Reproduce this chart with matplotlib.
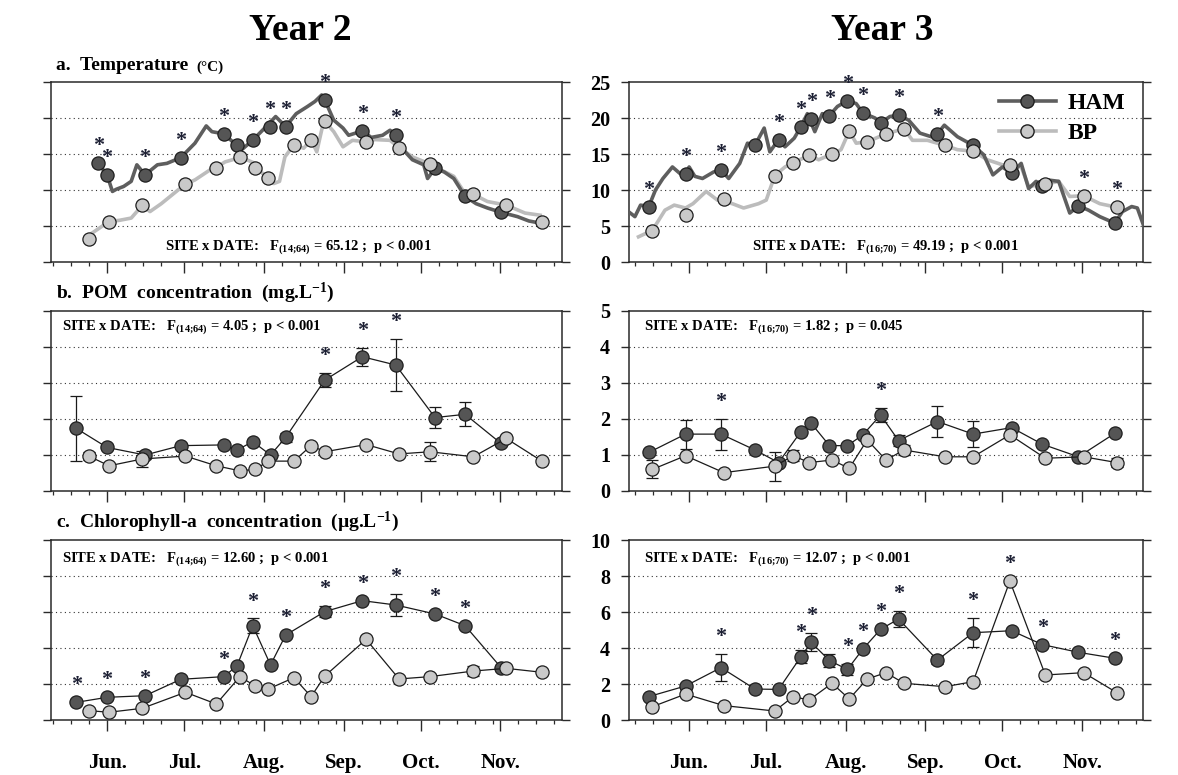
import matplotlib
matplotlib.use("Agg")
import matplotlib.pyplot as plt
from matplotlib.lines import Line2D

SERIF = ["Liberation Serif", "DejaVu Serif"]
plt.rcParams.update({
    "font.family": "serif",
    "font.serif": SERIF,
    "font.weight": "bold",
    "mathtext.fontset": "custom",
    "mathtext.rm": "Liberation Serif:bold",
    "mathtext.bf": "Liberation Serif:bold",
    "mathtext.it": "Liberation Serif:bold",
    "axes.unicode_minus": False,
})

# ── Data (days counted from 1 June) ──────────────────────────────────────────
MONTH_DAYS = [0, 30, 61, 92, 122, 153]
MONTH_LABELS = ["Jun.", "Jul.", "Aug.", "Sep.", "Oct.", "Nov."]
WEEK_DAYS = [-21, -14, -7, 7, 14, 21, 37, 44, 51, 58, 68, 75, 82, 89,
             99, 106, 113, 129, 136, 143, 150, 160, 167, 174]

# Year 2 sampling dates
Y2_HAM_DAY = [-12.0, 0.0, 14.8, 28.7, 45.5, 50.6, 56.7, 63.6, 69.5, 84.7,
              99.3, 112.3, 127.6, 139.3, 153.3]
Y2_TEMP_HAM_DAY = [-3.4, 0.0, 14.8, 28.7, 45.4, 50.6, 56.6, 63.4, 69.5, 84.7,
                   99.3, 112.3, 127.6, 139.3, 153.3]
Y2_BP_DAY = [-7.1, 0.8, 13.7, 30.5, 42.5, 51.7, 57.6, 62.7, 72.7, 79.4,
             84.7, 100.8, 113.6, 125.7, 142.5, 155.3, 169.2]

# Year 3 sampling dates
Y3_HAM_DAY = [-15.6, -1.3, 12.5, 25.7, 34.9, 43.6, 47.6, 54.7, 61.7, 67.7,
              74.6, 81.6, 96.7, 110.6, 125.6, 137.5, 151.6, 165.7]
Y3_BP_DAY = [-14.2, -1.3, 13.6, 33.4, 40.6, 46.8, 55.7, 62.4, 69.4, 76.7,
             83.7, 99.6, 110.6, 124.9, 138.7, 153.6, 166.5]

# a. Temperature, Year 2
Y2_TEMP_HAM = [13.7, 12.1, 12.1, 14.5, 17.8, 16.2, 16.9, 18.7, 18.8, 22.5,
               18.2, 17.6, 13.0, 9.1, 6.9]
Y2_TEMP_BP = [3.2, 5.6, 7.9, 10.8, 13.1, 14.6, 13.1, 11.6, 16.3, 17.0,
              19.6, 16.7, 15.9, 13.6, 9.4, 7.9, 5.5]
Y2_TEMP_SIG = [-3.4, 0.0, 14.8, 28.7, 45.4, 56.6, 63.4, 69.5, 84.7, 99.3, 112.3]
Y2_HAM_LINE_DAY = [-3.4, 0.0, 2.1, 3.6, 6.5, 9.4, 11.6, 14.8, 19.6, 23.3,
                   28.7, 34.2, 38.6, 40.8, 45.4, 49.5, 52.4, 56.6, 60.5, 65.6,
                   69.5, 73.6, 78.0, 80.9, 83.5, 84.7, 88.2, 91.8, 94.0, 99.3,
                   102.8, 107.2, 110.1, 112.3, 115.2, 118.8, 123.2, 124.7, 127.6,
                   131.2, 134.9, 139.3, 143.6, 148.0, 153.3, 159.7, 164.1, 168.5]
Y2_HAM_LINE = [13.7, 12.1, 9.8, 10.1, 10.5, 11.2, 13.5, 12.1, 13.5, 13.7,
               14.5, 16.5, 18.9, 18.1, 17.8, 16.5, 15.6, 16.9, 18.3, 20.2,
               18.8, 20.6, 21.6, 22.3, 23.2, 22.5, 19.7, 18.6, 17.6, 18.2,
               17.3, 17.6, 18.3, 17.6, 15.6, 14.2, 13.5, 11.6, 13.0,
               12.5, 11.6, 9.1, 8.1, 7.5, 6.9, 6.3, 5.7, 5.4]
Y2_BP_LINE_DAY = [-5.9, 0.7, 5.0, 9.4, 13.8, 16.7, 21.1, 30.4, 34.2, 40.1,
                  42.5, 45.9, 48.8, 51.7, 57.6, 60.5, 64.9, 67.1, 69.2, 72.7,
                  76.5, 79.4, 81.6, 83.8, 85.3, 88.2, 91.8, 95.5, 100.6, 104.2,
                  110.1, 113.6, 118.8, 125.7, 129.8, 134.9, 139.3, 142.5, 148.0,
                  155.3, 162.6, 168.5]
Y2_BP_LINE = [4.0, 5.6, 5.8, 6.1, 7.9, 7.0, 8.1, 10.8, 11.4, 12.8,
              13.1, 13.9, 14.2, 14.6, 13.7, 12.3, 10.9, 11.2, 14.6, 16.3,
              15.8, 17.0, 15.3, 18.8, 19.3, 18.1, 16.0, 16.9, 16.7, 17.0,
              16.9, 15.9, 14.6, 13.6, 12.8, 11.9, 9.5, 9.4, 8.4,
              7.9, 6.8, 6.5]

# a. Temperature, Year 3
Y3_TEMP_HAM = [7.7, 12.2, 12.8, 16.2, 17.0, 18.8, 19.8, 20.3, 22.4, 20.7,
               19.3, 20.4, 17.8, 16.2, 12.3, 10.6, 7.8, 5.4]
Y3_TEMP_BP = [4.35, 6.5, 8.7, 12.0, 13.8, 14.8, 15.0, 18.2, 16.7, 17.8,
              18.5, 16.2, 15.4, 13.5, 10.8, 9.2, 7.6]
Y3_TEMP_SIG = [-15.6, -1.3, 12.5, 34.9, 43.6, 47.6, 54.7, 61.7, 67.7, 81.6,
               96.7, 153.6, 166.5]
Y3_HAM_LINE_DAY = [-22.8, -21.0, -18.8, -15.6, -13.0, -10.1, -6.4, -3.5, -1.3,
                   0.1, 2.3, 5.3, 9.6, 12.5, 15.5, 19.8, 22.8, 25.7, 29.3, 31.5,
                   34.9, 37.4, 41.0, 43.6, 46.1, 49.0, 51.9, 54.6, 57.8, 61.7,
                   65.1, 67.7, 72.4, 74.6, 78.2, 81.6, 85.5, 89.9, 94.3, 96.7,
                   99.4, 104.5, 110.6, 114.7, 118.3, 122.0, 125.6, 129.3, 132.2,
                   135.1, 137.3, 139.5, 143.9, 148.2, 151.6, 155.5, 159.9, 165.7,
                   168.7, 172.3, 174.5, 177.1]
Y3_HAM_LINE = [6.8, 6.3, 7.9, 7.7, 10.0, 11.6, 13.2, 12.3, 12.2,
               13.2, 11.9, 11.6, 12.5, 12.8, 11.6, 13.7, 16.5, 16.2, 18.6, 15.3,
               17.0, 16.0, 17.2, 18.8, 20.6, 18.1, 20.6, 20.3, 21.6, 22.4,
               22.0, 20.7, 20.0, 19.3, 20.2, 20.4, 19.7, 17.9, 17.4, 17.8,
               19.0, 17.4, 16.2, 14.9, 12.1, 13.2, 12.3, 13.7, 10.2,
               11.2, 10.6, 11.4, 11.2, 6.8, 7.8, 7.2, 6.3, 5.4,
               7.0, 7.7, 7.5, 4.9]
Y3_BP_LINE_DAY = [-19.6, -14.2, -9.3, -5.7, -1.3, 1.6, 6.7, 11.1, 16.9, 21.3,
                  27.1, 30.1, 33.4, 37.4, 40.6, 46.8, 50.5, 55.7, 59.2, 62.4,
                  65.1, 69.4, 76.7, 83.7, 87.0, 92.8, 99.6, 104.5, 110.6, 116.1,
                  122.0, 129.3, 132.2, 138.7, 143.9, 148.2, 153.6, 159.9, 166.5]
Y3_BP_LINE = [3.5, 4.4, 7.2, 7.9, 7.5, 8.1, 9.8, 8.6, 8.1, 7.5,
              8.1, 8.6, 12.0, 13.2, 13.8, 14.8, 14.2, 15.0, 15.6, 18.2,
              16.5, 16.7, 17.8, 18.5, 16.9, 16.9, 16.2, 15.6, 15.4, 14.2,
              13.5, 13.2, 10.5, 10.8, 11.2, 9.1, 9.2, 8.1, 7.6]

# b. POM concentration
Y2_POM_HAM = [1.74, 1.21, 1.00, 1.26, 1.28, 1.14, 1.37, 1.00, 1.49, 3.08,
              3.73, 3.50, 2.04, 2.13, 1.32]
Y2_POM_HAM_ERR = [0.90, 0, 0.10, 0, 0, 0, 0, 0, 0.13, 0.20,
                  0.25, 0.72, 0.30, 0.33, 0]
Y2_POM_BP = [0.97, 0.70, 0.89, 0.97, 0.70, 0.56, 0.60, 0.83, 0.83, 1.26,
             1.09, 1.29, 1.03, 1.09, 0.95, 1.46, 0.83]
Y2_POM_BP_ERR = [0.10, 0, 0.22, 0, 0, 0, 0, 0, 0, 0,
                 0, 0, 0, 0.27, 0, 0, 0]
Y2_POM_SIG = [84.7, 99.3, 112.3]

Y3_POM_HAM = [1.07, 1.58, 1.58, 1.14, 0.79, 1.65, 1.88, 1.26, 1.26, 1.56,
              2.11, 1.40, 1.93, 1.58, 1.76, 1.30, 0.95, 1.60]
Y3_POM_HAM_ERR = [0, 0.40, 0.43, 0, 0, 0, 0, 0, 0, 0,
                  0.20, 0.15, 0.43, 0.36, 0, 0, 0, 0]
Y3_POM_BP = [0.60, 0.98, 0.51, 0.69, 0.98, 0.79, 0.86, 0.63, 1.42, 0.86,
             1.14, 0.95, 0.95, 1.56, 0.91, 0.95, 0.79]
Y3_POM_BP_ERR = [0.25, 0, 0, 0.40, 0.15, 0, 0, 0, 0, 0,
                 0.15, 0, 0, 0, 0, 0, 0.12]
Y3_POM_SIG = [12.5, 74.6]

# c. Chlorophyll-a concentration
Y2_CHL_HAM = [0.98, 1.26, 1.35, 2.26, 2.41, 3.02, 5.24, 3.06, 4.72, 6.02,
              6.63, 6.39, 5.89, 5.24, 2.91]
Y2_CHL_HAM_ERR = [0, 0, 0, 0, 0, 0, 0.40, 0, 0, 0.30,
                  0, 0.60, 0, 0, 0]
Y2_CHL_BP = [0.52, 0.43, 0.65, 1.54, 0.89, 2.41, 1.89, 1.72, 2.35, 1.30,
             2.44, 4.48, 2.28, 2.41, 2.72, 2.87, 2.65]
Y2_CHL_BP_ERR = [0, 0, 0, 0, 0, 0, 0, 0, 0, 0,
                 0, 0.15, 0, 0, 0.30, 0, 0]
Y2_CHL_SIG = [-12.0, 0.0, 14.8, 45.5, 56.7, 69.5, 84.7, 99.3, 112.3, 127.6, 139.3]

Y3_CHL_HAM = [1.30, 1.89, 2.91, 1.72, 1.70, 3.52, 4.31, 3.30, 2.81, 3.94,
              5.04, 5.61, 3.33, 4.85, 4.96, 4.19, 3.76, 3.43]
Y3_CHL_HAM_ERR = [0, 0, 0.75, 0, 0, 0.35, 0.50, 0.35, 0.30, 0,
                  0, 0.45, 0.20, 0.80, 0, 0, 0, 0]
Y3_CHL_BP = [0.74, 1.44, 0.80, 0.50, 1.30, 1.11, 2.04, 1.17, 2.28, 2.63,
             2.04, 1.85, 2.13, 7.72, 2.50, 2.63, 1.52]
Y3_CHL_BP_ERR = [0.15, 0, 0, 0, 0, 0, 0, 0, 0, 0,
                 0, 0, 0, 0, 0, 0, 0]
Y3_CHL_SIG = [12.5, 43.6, 47.6, 61.7, 67.7, 74.6, 81.6, 110.6, 124.9, 137.5, 165.7]

# F statistic degrees of freedom, F value, p text
STATS = {
    ("a", 2): ("14", "64", "65.12", "p < 0.001"),
    ("a", 3): ("16", "70", "49.19", "p < 0.001"),
    ("b", 2): ("14", "64", "4.05", "p < 0.001"),
    ("b", 3): ("16", "70", "1.82", "p = 0.045"),
    ("c", 2): ("14", "64", "12.60", "p < 0.001"),
    ("c", 3): ("16", "70", "12.07", "p < 0.001"),
}

# ── Style ────────────────────────────────────────────────────────────────────
HAM_FACE = "#555555"
HAM_LINE = "#5e5e5e"
BP_FACE = "#c9c9c9"
BP_LINE = "#bcbcbc"
EDGE = "#1e1e1e"
STAR = "#1c1f33"
MS = 9.5

W, H = 1178, 775


def px_axes(x0, x1, y_top, y_bot):
    return [x0 / W, 1 - y_bot / H, (x1 - x0) / W, (y_bot - y_top) / H]


def style_axes(ax, ymax, ystep, xlim, show_ylabels, show_xlabels):
    ax.set_xlim(*xlim)
    ax.set_ylim(0, ymax)
    ax.set_yticks([i * ystep for i in range(int(round(ymax / ystep)) + 1)])
    ax.set_xticks(MONTH_DAYS)
    ax.set_xticks(WEEK_DAYS, minor=True)
    ax.set_xticklabels(MONTH_LABELS if show_xlabels else [])
    for sp in ax.spines.values():
        sp.set_linewidth(1.1)
        sp.set_color("#2a2a2a")
    ax.tick_params(axis="y", which="major", direction="out", length=5.5, width=1.0,
                   left=True, right=True, labelleft=show_ylabels, labelsize=14.5,
                   pad=8, color="#2a2a2a")
    ax.tick_params(axis="x", which="major", direction="out", length=8, width=1.0,
                   bottom=True, top=False, labelsize=15, pad=16, color="#2a2a2a")
    ax.tick_params(axis="x", which="minor", direction="out", length=3, width=0.9,
                   bottom=True, top=False, color="#2a2a2a")
    for lbl in ax.get_yticklabels() + ax.get_xticklabels():
        lbl.set_fontweight("bold")
    for v in ax.get_yticks()[1:-1]:
        ax.axhline(v, color="#333333", lw=0.8, ls=(0, (1, 3)), zorder=0)


def add_stars(ax, sig_days, series):
    for d in sig_days:
        top = 0.0
        for days, vals, errs in series:
            for x, v, e in zip(days, vals, errs):
                if abs(x - d) <= 2.5:
                    top = max(top, v + e)
        ax.annotate("*", xy=(d, top), xytext=(0, 5), textcoords="offset points",
                    ha="center", va="bottom", fontsize=16, color=STAR,
                    fontweight="bold", annotation_clip=False, zorder=6)


def add_stats(ax, key, x, y):
    df1, df2, fval, ptxt = STATS[key]
    # U+037E looks like a semicolon but avoids mathtext punctuation spacing
    ax.text(x, y, "SITE x DATE:   F$_{(" + df1 + "\u037e" + df2 + ")}$ = "
            + fval + " ;  " + ptxt,
            transform=ax.transAxes, ha="left", va="center", fontsize=10.5,
            fontweight="bold")


def temp_panel(ax, ham_day, ham, bp_day, bp, hl_day, hl, bl_day, bl, sig):
    ax.plot(bl_day, bl, color=BP_LINE, lw=2.6, zorder=2, solid_joinstyle="round")
    ax.plot(hl_day, hl, color=HAM_LINE, lw=2.6, zorder=3, solid_joinstyle="round")
    ax.plot(ham_day, ham, ls="none", marker="o", ms=MS, mfc=HAM_FACE, mec=EDGE,
            mew=0.9, zorder=4)
    ax.plot(bp_day, bp, ls="none", marker="o", ms=MS, mfc=BP_FACE, mec=EDGE,
            mew=0.9, zorder=5)
    add_stars(ax, sig, [(ham_day, ham, [0] * len(ham)), (bp_day, bp, [0] * len(bp))])


def conc_panel(ax, ham_day, ham, ham_err, bp_day, bp, bp_err, sig):
    ax.errorbar(ham_day, ham, yerr=ham_err, fmt="none", ecolor="#1a1a1a",
                elinewidth=0.9, capsize=4, capthick=0.9, zorder=3)
    ax.errorbar(bp_day, bp, yerr=bp_err, fmt="none", ecolor="#1a1a1a",
                elinewidth=0.9, capsize=4, capthick=0.9, zorder=3)
    ax.plot(ham_day, ham, color="#1a1a1a", lw=0.9, marker="o", ms=MS,
            mfc=HAM_FACE, mec=EDGE, mew=0.9, zorder=4)
    ax.plot(bp_day, bp, color="#1a1a1a", lw=0.9, marker="o", ms=MS,
            mfc=BP_FACE, mec=EDGE, mew=0.9, zorder=5)
    add_stars(ax, sig, [(ham_day, ham, ham_err), (bp_day, bp, bp_err)])


def main():
    fig = plt.figure(figsize=(W / 100, H / 100), dpi=100)

    xl_left = (-21.8, 177.0)
    xl_right = (-23.3, 176.7)
    rows = [(82, 262), (311, 491), (540, 720)]

    axes = {}
    for r, (yt, yb) in enumerate(rows):
        axes[(r, 2)] = fig.add_axes(px_axes(51, 562, yt, yb))
        axes[(r, 3)] = fig.add_axes(px_axes(629, 1143, yt, yb))

    # a. temperature
    ax = axes[(0, 2)]
    temp_panel(ax, Y2_TEMP_HAM_DAY, Y2_TEMP_HAM, Y2_BP_DAY, Y2_TEMP_BP,
               Y2_HAM_LINE_DAY, Y2_HAM_LINE, Y2_BP_LINE_DAY, Y2_BP_LINE, Y2_TEMP_SIG)
    style_axes(ax, 25, 5, xl_left, False, False)
    add_stats(ax, ("a", 2), 0.223, 0.084)

    ta = fig.text(56 / W, 1 - 65 / H, "a.  Temperature", ha="left", va="center",
                  fontsize=14, fontweight="bold")
    ax.annotate("(\u00b0C)", xy=(1, 0), xycoords=ta, xytext=(6, 0),
                textcoords="offset points", ha="left", va="bottom",
                fontsize=11, fontweight="bold", annotation_clip=False)

    ax = axes[(0, 3)]
    temp_panel(ax, Y3_HAM_DAY, Y3_TEMP_HAM, Y3_BP_DAY, Y3_TEMP_BP,
               Y3_HAM_LINE_DAY, Y3_HAM_LINE, Y3_BP_LINE_DAY, Y3_BP_LINE, Y3_TEMP_SIG)
    style_axes(ax, 25, 5, xl_right, True, False)
    add_stats(ax, ("a", 3), 0.239, 0.084)

    handles = [
        Line2D([], [], color=HAM_LINE, lw=2.6, marker="o", ms=MS, mfc=HAM_FACE, mec=EDGE),
        Line2D([], [], color=BP_LINE, lw=2.6, marker="o", ms=MS, mfc=BP_FACE, mec=EDGE),
    ]
    ax.legend(handles, ["HAM", "BP"], loc="upper left", bbox_to_anchor=(0.72, 0.94),
              frameon=False, prop=dict(family=SERIF, weight="bold", size=17),
              handlelength=2.4, handletextpad=0.5, labelspacing=0.36,
              borderpad=0, borderaxespad=0)

    # b. POM
    ax = axes[(1, 2)]
    conc_panel(ax, Y2_HAM_DAY, Y2_POM_HAM, Y2_POM_HAM_ERR,
               Y2_BP_DAY, Y2_POM_BP, Y2_POM_BP_ERR, Y2_POM_SIG)
    style_axes(ax, 5, 1, xl_left, False, False)
    add_stats(ax, ("b", 2), 0.022, 0.911)

    ax = axes[(1, 3)]
    conc_panel(ax, Y3_HAM_DAY, Y3_POM_HAM, Y3_POM_HAM_ERR,
               Y3_BP_DAY, Y3_POM_BP, Y3_POM_BP_ERR, Y3_POM_SIG)
    style_axes(ax, 5, 1, xl_right, True, False)
    add_stats(ax, ("b", 3), 0.029, 0.911)

    # c. Chlorophyll-a
    ax = axes[(2, 2)]
    conc_panel(ax, Y2_HAM_DAY, Y2_CHL_HAM, Y2_CHL_HAM_ERR,
               Y2_BP_DAY, Y2_CHL_BP, Y2_CHL_BP_ERR, Y2_CHL_SIG)
    style_axes(ax, 10, 2, xl_left, False, True)
    add_stats(ax, ("c", 2), 0.022, 0.894)

    ax = axes[(2, 3)]
    conc_panel(ax, Y3_HAM_DAY, Y3_CHL_HAM, Y3_CHL_HAM_ERR,
               Y3_BP_DAY, Y3_CHL_BP, Y3_CHL_BP_ERR, Y3_CHL_SIG)
    style_axes(ax, 10, 2, xl_right, True, True)
    add_stats(ax, ("c", 3), 0.029, 0.894)

    # ── Titles and panel labels ──────────────────────────────────────────────
    fig.text(300 / W, 1 - 31 / H, "Year 2", ha="center", va="center",
             fontsize=27, fontweight="bold")
    fig.text(882 / W, 1 - 31 / H, "Year 3", ha="center", va="center",
             fontsize=27, fontweight="bold")
    fig.text(56 / W, 1 - 293 / H, "b.  POM  concentration  (mg.L$^{-1}$)",
             ha="left", va="center", fontsize=14, fontweight="bold")
    fig.text(56 / W, 1 - 522 / H,
             "c.  Chlorophyll-a  concentration  (\u00b5g.L$^{-1}$)",
             ha="left", va="center", fontsize=14, fontweight="bold")

    fig.savefig("out.png", dpi=100)
    plt.close(fig)


if __name__ == "__main__":
    main()
